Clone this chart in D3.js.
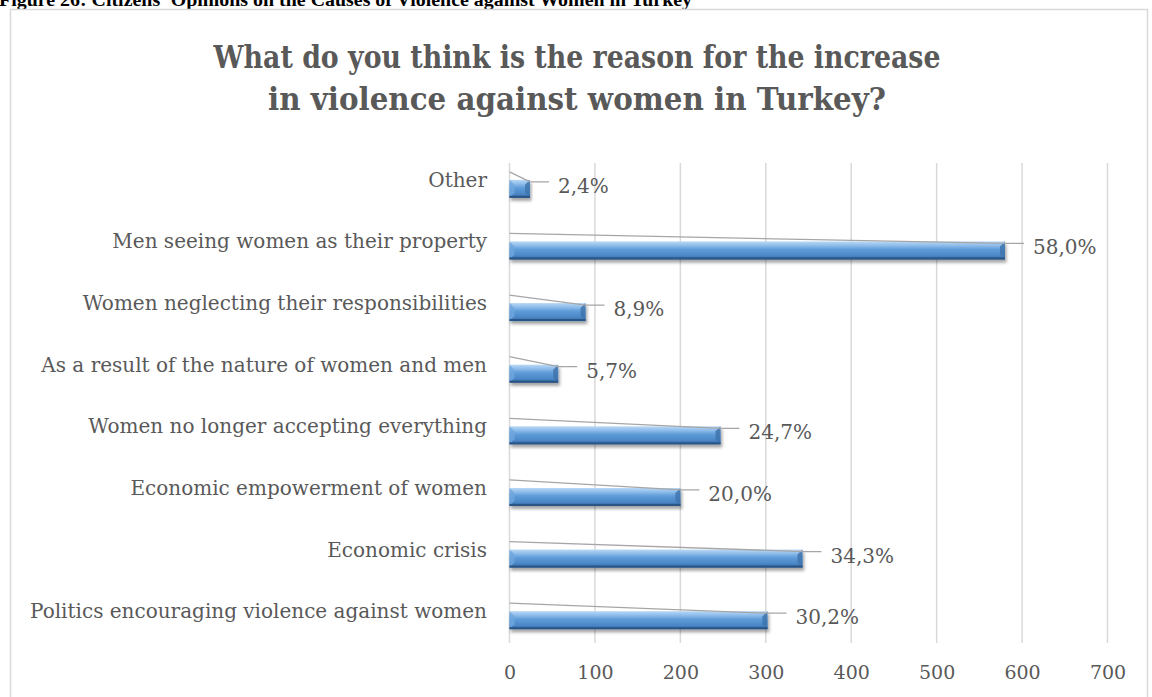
<!DOCTYPE html>
<html>
<head>
<meta charset="utf-8">
<script src="https://cdn.jsdelivr.net/npm/d3@7/dist/d3.min.js"></script>
<style>
  html, body { margin: 0; padding: 0; background: #fff; }
  svg { display: block; }
</style>
</head>
<body>
<svg id="chart" width="1152" height="697"></svg>
<script>
// Survey answers, top to bottom as listed in the chart
const categories = [
  "Other",
  "Men seeing women as their property",
  "Women neglecting their responsibilities",
  "As a result of the nature of women and men",
  "Women no longer accepting everything",
  "Economic empowerment of women",
  "Economic crisis",
  "Politics encouraging violence against women"
];
// Share of respondents (%) – bars are drawn on a 0–700 scale (share × 10)
const percentages = [2.4, 58.0, 8.9, 5.7, 24.7, 20.0, 34.3, 30.2];
const barValues = percentages.map(p => p * 10);
const tickValues = [0, 100, 200, 300, 400, 500, 600, 700];

const captionText = "Figure 26: Citizens' Opinions on the Causes of Violence against Women in Turkey";
const titleLines = [
  "What do you think is the reason for the increase",
  "in violence against women in Turkey?"
];

const svg = d3.select("#chart");
const grey = "#595959";
const serif = "'DejaVu Serif', 'Liberation Serif', serif";

// defs: bar gradient + drop shadow
const defs = svg.append("defs");
const grad = defs.append("linearGradient")
  .attr("id", "barGrad").attr("x1", 0).attr("y1", 0).attr("x2", 0).attr("y2", 1);
[["0%", "#b9d8f5"], ["22%", "#8fbdeb"], ["45%", "#5e9bd8"], ["80%", "#4a86c6"], ["100%", "#2f5f94"]]
  .forEach(([o, c]) => grad.append("stop").attr("offset", o).attr("stop-color", c));
const shadow = defs.append("filter").attr("id", "shadow")
  .attr("x", "-5%").attr("y", "-50%").attr("width", "115%").attr("height", "220%");
shadow.append("feDropShadow")
  .attr("dx", 1.5).attr("dy", 3).attr("stdDeviation", 1.8)
  .attr("flood-color", "#000").attr("flood-opacity", 0.35);

// caption above the chart frame
svg.append("text")
  .attr("x", -1).attr("y", 6)
  .attr("font-family", "'Liberation Serif', serif")
  .attr("font-weight", "bold")
  .attr("font-size", 18)
  .attr("fill", "#000")
  .attr("textLength", 693).attr("lengthAdjust", "spacingAndGlyphs")
  .text(captionText);

// chart frame
svg.append("rect")
  .attr("x", 10.5).attr("y", 9.5)
  .attr("width", 1137).attr("height", 720)
  .attr("fill", "#fff")
  .attr("stroke", "#d9d9d9").attr("stroke-width", 1.5);

// title
const title = svg.append("text")
  .attr("font-family", serif)
  .attr("font-weight", "bold")
  .attr("font-size", 31)
  .attr("fill", grey)
  .attr("text-anchor", "middle");
const titleWidths = [727, 618];
titleLines.forEach((t, i) => {
  title.append("tspan")
    .attr("x", 577).attr("y", 68 + i * 42)
    .attr("textLength", titleWidths[i]).attr("lengthAdjust", "spacingAndGlyphs")
    .text(t);
});

// scales
const x = d3.scaleLinear().domain([0, 700]).range([509.5, 1107.5]);
const y = d3.scaleBand().domain(categories).range([158, 651]).paddingInner(0.72).paddingOuter(0.36);
const gridTop = 163, gridBottom = 643;

// vertical gridlines
svg.append("g")
  .selectAll("line")
  .data(tickValues)
  .join("line")
  .attr("x1", d => x(d)).attr("x2", d => x(d))
  .attr("y1", gridTop).attr("y2", gridBottom)
  .attr("stroke", "#d9d9d9").attr("stroke-width", 1.5);

// x axis tick labels
const xAxis = d3.axisBottom(x).tickValues(tickValues).tickSize(0).tickPadding(0).tickFormat(d3.format("d"));
const gx = svg.append("g").attr("transform", `translate(0,${664})`).call(xAxis);
gx.select(".domain").remove();
gx.selectAll("text")
  .attr("font-family", serif)
  .attr("font-size", 19)
  .attr("fill", grey)
  .attr("dy", "0.8em");

// category labels
svg.append("g")
  .selectAll("text")
  .data(categories)
  .join("text")
  .attr("x", 487)
  .attr("y", d => y(d) + y.bandwidth() / 2 - 2)
  .attr("text-anchor", "end")
  .attr("font-family", serif)
  .attr("font-size", 20)
  .attr("fill", grey)
  .text(d => d);

// bars with bevelled edges
const rows = categories.map((c, i) => ({ cat: c, value: barValues[i], pct: percentages[i] }));
const bh = 18, bev = 5;
const bars = svg.append("g").selectAll("g").data(rows).join("g")
  .attr("filter", "url(#shadow)");

function barBox(d) {
  const cy = y(d.cat) + y.bandwidth() / 2;
  return { x0: x(0), x1: x(d.value), y0: cy - bh / 2, y1: cy + bh / 2, cy };
}

bars.append("rect")
  .attr("x", d => barBox(d).x0)
  .attr("y", d => barBox(d).y0)
  .attr("width", d => barBox(d).x1 - barBox(d).x0)
  .attr("height", bh)
  .attr("fill", "url(#barGrad)");

// right end facet
bars.append("polygon")
  .attr("points", d => {
    const b = barBox(d), e = Math.min(bev, (b.x1 - b.x0) / 3);
    return [[b.x1 - e, b.y0 + e], [b.x1, b.y0], [b.x1, b.y1], [b.x1 - e, b.y1 - e]].join(" ");
  })
  .attr("fill", "#3f74ad").attr("opacity", 0.85);
// left end facet
bars.append("polygon")
  .attr("points", d => {
    const b = barBox(d), e = Math.min(bev, (b.x1 - b.x0) / 3);
    return [[b.x0, b.y0], [b.x0 + e, b.y0 + e], [b.x0 + e, b.y1 - e], [b.x0, b.y1]].join(" ");
  })
  .attr("fill", "#6fa6dd").attr("opacity", 0.8);
// bottom rim
bars.append("rect")
  .attr("x", d => barBox(d).x0)
  .attr("y", d => barBox(d).y1 - 2)
  .attr("width", d => barBox(d).x1 - barBox(d).x0)
  .attr("height", 2)
  .attr("fill", "#2b5687");

// leader lines and value labels
const labelGap = 28;
svg.append("g").selectAll("polyline").data(rows).join("polyline")
  .attr("points", d => {
    const b = barBox(d);
    const lx = b.x1 + labelGap;
    return [[b.x0, b.cy - 17], [b.x1, b.cy - 7], [lx - 9, b.cy - 7]].join(" ");
  })
  .attr("fill", "none")
  .attr("stroke", "#a6a6a6").attr("stroke-width", 1.3);

svg.append("g").selectAll("text").data(rows).join("text")
  .attr("x", d => barBox(d).x1 + labelGap)
  .attr("y", d => barBox(d).cy + 4)
  .attr("font-family", serif)
  .attr("font-size", 20)
  .attr("fill", grey)
  .text(d => d.pct.toFixed(1).replace(".", ",") + "%");
</script>
</body>
</html>
